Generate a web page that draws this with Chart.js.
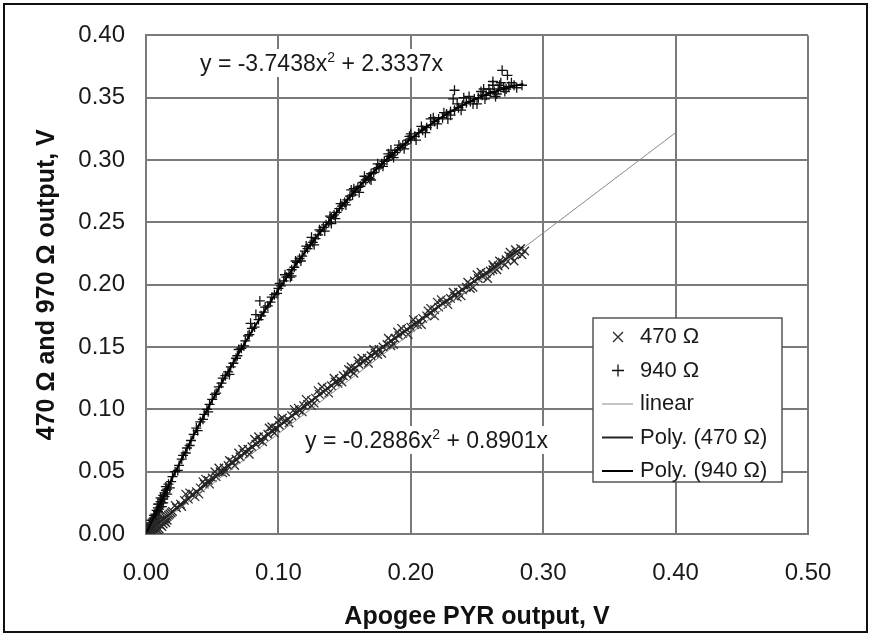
<!DOCTYPE html>
<html>
<head>
<meta charset="utf-8">
<script src="https://cdn.jsdelivr.net/npm/chart.js@4"></script>
<style>
  body { margin: 0; background: #fff; }
</style>
</head>
<body>
<canvas id="grafico" width="871" height="636"></canvas>
<script>
// lecturas del grafico: [Apogee PYR, salida]
const pts470 = [
  [0.001, 0.001], [0.002, 0.002], [0.003, 0.002], [0.004, 0.003], [0.005, 0.004], [0.006, 0.005],
  [0.007, 0.006], [0.008, 0.007], [0.009, 0.008], [0.010, 0.008], [0.011, 0.010], [0.012, 0.011],
  [0.013, 0.012], [0.014, 0.012], [0.015, 0.013], [0.016, 0.014], [0.018, 0.016], [0.003, 0.000],
  [0.006, 0.001], [0.009, 0.003], [0.012, 0.006], [0.015, 0.009], [0.004, 0.006], [0.008, 0.010],
  [0.002, 0.004], [0.010, 0.004], [0.000, 0.000], [0.001, 0.000], [0.002, 0.001], [0.004, 0.001],
  [0.005, 0.002], [0.007, 0.003], [0.008, 0.004], [0.011, 0.007], [0.013, 0.008], [0.014, 0.010],
  [0.016, 0.011], [0.017, 0.015], [0.019, 0.017], [0.005, 0.006], [0.007, 0.008], [0.003, 0.004],
  [0.001, 0.003],
  [0.020, 0.018], [0.023, 0.021], [0.026, 0.024], [0.029, 0.027], [0.032, 0.028], [0.035, 0.032],
  [0.038, 0.034], [0.041, 0.037], [0.044, 0.040], [0.047, 0.043], [0.050, 0.045], [0.053, 0.046],
  [0.056, 0.050], [0.059, 0.053], [0.062, 0.055], [0.065, 0.058], [0.068, 0.060], [0.071, 0.062],
  [0.074, 0.065], [0.077, 0.068], [0.080, 0.070], [0.083, 0.072], [0.086, 0.075], [0.089, 0.078],
  [0.092, 0.080], [0.095, 0.083], [0.098, 0.085], [0.101, 0.087], [0.104, 0.090], [0.107, 0.092],
  [0.110, 0.095], [0.113, 0.097], [0.116, 0.099], [0.119, 0.103], [0.122, 0.104], [0.125, 0.107],
  [0.128, 0.109], [0.131, 0.112], [0.134, 0.114], [0.137, 0.117], [0.140, 0.119], [0.143, 0.122],
  [0.146, 0.124], [0.149, 0.127], [0.152, 0.128], [0.155, 0.131], [0.158, 0.133], [0.161, 0.136],
  [0.164, 0.138], [0.167, 0.141], [0.170, 0.143], [0.173, 0.145], [0.176, 0.148], [0.179, 0.150],
  [0.182, 0.152], [0.185, 0.155], [0.188, 0.157], [0.191, 0.159], [0.194, 0.161], [0.197, 0.164],
  [0.200, 0.166], [0.203, 0.168], [0.206, 0.171], [0.209, 0.173], [0.212, 0.175], [0.215, 0.177],
  [0.218, 0.180], [0.221, 0.182], [0.224, 0.185], [0.227, 0.187], [0.230, 0.189], [0.233, 0.191],
  [0.236, 0.194], [0.239, 0.196], [0.242, 0.198], [0.245, 0.200], [0.248, 0.203], [0.251, 0.205],
  [0.254, 0.207], [0.257, 0.209], [0.260, 0.211], [0.263, 0.214], [0.266, 0.215], [0.269, 0.218],
  [0.272, 0.220], [0.276, 0.222], [0.280, 0.225], [0.286, 0.227],
  [0.030, 0.032], [0.045, 0.044], [0.055, 0.053], [0.070, 0.065], [0.085, 0.078], [0.100, 0.091],
  [0.115, 0.101], [0.130, 0.115], [0.145, 0.121], [0.160, 0.139], [0.175, 0.144], [0.190, 0.162],
  [0.205, 0.168], [0.220, 0.186], [0.235, 0.190], [0.250, 0.208], [0.265, 0.212], [0.275, 0.226],
  [0.278, 0.219], [0.040, 0.032], [0.060, 0.050], [0.095, 0.086], [0.125, 0.103], [0.155, 0.134],
  [0.185, 0.151], [0.215, 0.181], [0.245, 0.197], [0.262, 0.216], [0.283, 0.229],
  [0.022, 0.023], [0.027, 0.022], [0.033, 0.033], [0.037, 0.030], [0.043, 0.042], [0.048, 0.040],
  [0.052, 0.050], [0.058, 0.049], [0.063, 0.059], [0.067, 0.055], [0.073, 0.068], [0.078, 0.064],
  [0.082, 0.076], [0.088, 0.074], [0.093, 0.085], [0.097, 0.081], [0.103, 0.093], [0.108, 0.089],
  [0.112, 0.100], [0.118, 0.098], [0.121, 0.108], [0.127, 0.105], [0.133, 0.118], [0.138, 0.113],
  [0.142, 0.125], [0.148, 0.122], [0.153, 0.132], [0.157, 0.129], [0.163, 0.141], [0.168, 0.137],
  [0.172, 0.148], [0.178, 0.145], [0.183, 0.157], [0.187, 0.152], [0.193, 0.165], [0.198, 0.160],
  [0.202, 0.172], [0.208, 0.168], [0.213, 0.179], [0.218, 0.175], [0.223, 0.188], [0.228, 0.184],
  [0.232, 0.194], [0.238, 0.191], [0.243, 0.202], [0.247, 0.198], [0.253, 0.210], [0.258, 0.205],
  [0.262, 0.212], [0.267, 0.219], [0.271, 0.216], [0.274, 0.223], [0.279, 0.228], [0.284, 0.224]
];

const pts940 = [
  [0.000, 0.001], [0.001, 0.002], [0.001, 0.004], [0.002, 0.004], [0.002, 0.006], [0.003, 0.003],
  [0.003, 0.006], [0.004, 0.006], [0.004, 0.009], [0.005, 0.009], [0.005, 0.012], [0.006, 0.010],
  [0.006, 0.013], [0.007, 0.012], [0.007, 0.016], [0.008, 0.015], [0.008, 0.019], [0.009, 0.018],
  [0.009, 0.021], [0.010, 0.020], [0.010, 0.024], [0.011, 0.022], [0.011, 0.026], [0.012, 0.025],
  [0.012, 0.028], [0.013, 0.028], [0.013, 0.031], [0.014, 0.033], [0.015, 0.035], [0.016, 0.036],
  [0.000, 0.000], [0.001, 0.000], [0.002, 0.002], [0.003, 0.008], [0.004, 0.011], [0.005, 0.007],
  [0.006, 0.015], [0.007, 0.010], [0.008, 0.013], [0.009, 0.024], [0.010, 0.017], [0.011, 0.029],
  [0.012, 0.022], [0.013, 0.025], [0.014, 0.030], [0.015, 0.038], [0.016, 0.032], [0.017, 0.040],
  [0.018, 0.037], [0.020, 0.046],
  [0.019, 0.042], [0.022, 0.050], [0.025, 0.055], [0.028, 0.063], [0.031, 0.069], [0.034, 0.075],
  [0.036, 0.080], [0.038, 0.085], [0.041, 0.090], [0.044, 0.096], [0.046, 0.100], [0.048, 0.104],
  [0.050, 0.108], [0.053, 0.113], [0.055, 0.118], [0.057, 0.121], [0.060, 0.127], [0.062, 0.130],
  [0.064, 0.134], [0.066, 0.137], [0.068, 0.141], [0.070, 0.148], [0.072, 0.149], [0.075, 0.155],
  [0.078, 0.160], [0.079, 0.169], [0.080, 0.165], [0.082, 0.166], [0.083, 0.176], [0.085, 0.172],
  [0.086, 0.187], [0.087, 0.175], [0.090, 0.182], [0.092, 0.183], [0.095, 0.190], [0.097, 0.192],
  [0.100, 0.197], [0.102, 0.199],
  [0.024, 0.051], [0.027, 0.060], [0.030, 0.065], [0.033, 0.071], [0.039, 0.083], [0.043, 0.092],
  [0.047, 0.098], [0.052, 0.112], [0.058, 0.125], [0.063, 0.128], [0.069, 0.143], [0.074, 0.151],
  [0.077, 0.159], [0.089, 0.178], [0.094, 0.186], [0.099, 0.193],
  [0.104, 0.203], [0.106, 0.206], [0.108, 0.209], [0.110, 0.212], [0.112, 0.214], [0.114, 0.218],
  [0.116, 0.221], [0.118, 0.223], [0.120, 0.227], [0.122, 0.229], [0.124, 0.232], [0.126, 0.234],
  [0.128, 0.237], [0.130, 0.240], [0.132, 0.243], [0.134, 0.246], [0.136, 0.248], [0.138, 0.250],
  [0.140, 0.254], [0.142, 0.256], [0.144, 0.258], [0.146, 0.261], [0.148, 0.263], [0.150, 0.266],
  [0.152, 0.268], [0.154, 0.271], [0.156, 0.272], [0.158, 0.275], [0.160, 0.278], [0.162, 0.279],
  [0.164, 0.282], [0.166, 0.284], [0.168, 0.286], [0.170, 0.289], [0.172, 0.290], [0.174, 0.293],
  [0.176, 0.294], [0.178, 0.297], [0.180, 0.299], [0.182, 0.300], [0.184, 0.303], [0.186, 0.304],
  [0.188, 0.306], [0.190, 0.308], [0.192, 0.310], [0.194, 0.312], [0.196, 0.313], [0.198, 0.316],
  [0.200, 0.317], [0.203, 0.319], [0.206, 0.322], [0.209, 0.324], [0.212, 0.326], [0.215, 0.328],
  [0.218, 0.331], [0.221, 0.333], [0.224, 0.334], [0.227, 0.337], [0.230, 0.339], [0.233, 0.340],
  [0.236, 0.342], [0.239, 0.344], [0.242, 0.346], [0.245, 0.347], [0.248, 0.349], [0.251, 0.350],
  [0.254, 0.352], [0.257, 0.352], [0.260, 0.354], [0.263, 0.355], [0.266, 0.357], [0.270, 0.358],
  [0.274, 0.359], [0.278, 0.360],
  [0.101, 0.201], [0.105, 0.208], [0.109, 0.206], [0.113, 0.219], [0.117, 0.219], [0.121, 0.231],
  [0.127, 0.232], [0.131, 0.244], [0.135, 0.243], [0.139, 0.255], [0.143, 0.253], [0.147, 0.265],
  [0.151, 0.264], [0.157, 0.277], [0.161, 0.274], [0.165, 0.287], [0.169, 0.285], [0.175, 0.297],
  [0.179, 0.295], [0.183, 0.305], [0.187, 0.302], [0.191, 0.312], [0.195, 0.309], [0.199, 0.319],
  [0.204, 0.316], [0.208, 0.327], [0.211, 0.322], [0.217, 0.334], [0.220, 0.329], [0.225, 0.338],
  [0.228, 0.333], [0.235, 0.345], [0.238, 0.340], [0.244, 0.351], [0.247, 0.345], [0.253, 0.355],
  [0.256, 0.349], [0.259, 0.357], [0.265, 0.353], [0.267, 0.360], [0.272, 0.357], [0.276, 0.362],
  [0.280, 0.358],
  [0.110, 0.207], [0.125, 0.238], [0.140, 0.249], [0.155, 0.276], [0.170, 0.284], [0.185, 0.308],
  [0.200, 0.321], [0.215, 0.333], [0.230, 0.336], [0.240, 0.350], [0.250, 0.345], [0.255, 0.357],
  [0.262, 0.360], [0.264, 0.351], [0.268, 0.362], [0.233, 0.356], [0.232, 0.349], [0.262, 0.363],
  [0.269, 0.372], [0.273, 0.368], [0.284, 0.360], [0.271, 0.355]
];

// lineas de tendencia y linea 1:1
const xPoly = [0, 0.01, 0.02, 0.04, 0.06, 0.08, 0.10, 0.12, 0.14, 0.16, 0.18, 0.20, 0.22, 0.24, 0.26, 0.28, 0.285];
const yPoly470 = [0, 0.0089, 0.0177, 0.0351, 0.0524, 0.0694, 0.0861, 0.1027, 0.1190, 0.1350, 0.1509, 0.1665, 0.1818, 0.1970, 0.2119, 0.2266, 0.2303];
const yPoly940 = [0, 0.0230, 0.0452, 0.0874, 0.1265, 0.1627, 0.1959, 0.2261, 0.2533, 0.2776, 0.2988, 0.3170, 0.3322, 0.3444, 0.3537, 0.3599, 0.3610];
const xLinear = [0, 0.40];
const yLinear = [0, 0.322];

const xTicks = [0, 0.10, 0.20, 0.30, 0.40, 0.50];
const yTicks = [0, 0.05, 0.10, 0.15, 0.20, 0.25, 0.30, 0.35, 0.40];

const labels = ["470 Ω", "940 Ω", "linear", "Poly. (470 Ω)", "Poly. (940 Ω)"];
const equations = [
  ["y = -3.7438x", "2", " + 2.3337x"],
  ["y = -0.2886x", "2", " + 0.8901x"]
];

const FONT = '"Liberation Sans", Arial, sans-serif';
const toPoints = (xs, ys) => xs.map((x, i) => ({ x: x, y: ys[i] }));
const fromPairs = (pairs) => pairs.map((p) => ({ x: p[0], y: p[1] }));

// recuadro exterior
const marco = {
  id: "marco",
  afterDraw(chart) {
    const ctx = chart.ctx;
    ctx.save();
    ctx.strokeStyle = "#111";
    ctx.lineWidth = 2;
    ctx.strokeRect(4, 4, 863, 628);
    ctx.restore();
  },
};

// ecuaciones de las tendencias
const ecuaciones = {
  id: "ecuaciones",
  afterDraw(chart) {
    const ctx = chart.ctx;
    const spots = [
      [200, 71],
      [305, 448],
    ];
    ctx.save();
    equations.forEach((eq, i) => {
      let x = spots[i][0];
      const y = spots[i][1];
      ctx.font = "23px " + FONT;
      const w1 = ctx.measureText(eq[0]).width;
      const w3 = ctx.measureText(eq[2]).width;
      ctx.font = "14px " + FONT;
      const w2 = ctx.measureText(eq[1]).width;
      ctx.fillStyle = "#fff";
      ctx.fillRect(x - 3, y - 22, w1 + w2 + w3 + 6, 28);
      ctx.fillStyle = "#1a1a1a";
      ctx.textBaseline = "alphabetic";
      ctx.font = "23px " + FONT;
      ctx.fillText(eq[0], x, y);
      x += w1;
      ctx.font = "14px " + FONT;
      ctx.fillText(eq[1], x, y - 9);
      x += w2;
      ctx.font = "23px " + FONT;
      ctx.fillText(eq[2], x, y);
    });
    ctx.restore();
  },
};

// leyenda dentro del area de trazado
const leyenda = {
  id: "leyenda",
  afterDraw(chart) {
    const ctx = chart.ctx;
    ctx.save();
    ctx.fillStyle = "#fff";
    ctx.fillRect(593, 318, 189, 164);
    ctx.strokeStyle = "#555";
    ctx.lineWidth = 1.5;
    ctx.strokeRect(593, 318, 189, 164);
    ctx.font = "22px " + FONT;
    ctx.textBaseline = "middle";
    chart.data.datasets.forEach((ds, i) => {
      const y = 337 + i * 33.5;
      ctx.strokeStyle = ds.borderColor;
      if (ds.showLine) {
        ctx.lineWidth = ds.borderWidth;
        ctx.beginPath();
        ctx.moveTo(602, y);
        ctx.lineTo(633, y);
        ctx.stroke();
      } else {
        ctx.lineWidth = 1.3;
        Chart.helpers.drawPoint(ctx, { pointStyle: ds.pointStyle, rotation: 0, radius: ds.pointRadius + 1, borderWidth: 1.3 }, 618, y);
      }
      ctx.fillStyle = "#1a1a1a";
      ctx.fillText(labels[i], 640, y);
    });
    ctx.restore();
  },
};

const grid = {
  color: "#7a7a7a",
  lineWidth: 2,
  drawTicks: false,
};

new Chart("grafico", {
  type: "scatter",
  data: {
    datasets: [
      {
        label: labels[0],
        data: fromPairs(pts470),
        pointStyle: "crossRot",
        pointRadius: 6,
        borderColor: "#2a2a2a",
        borderWidth: 1.3,
        order: 2,
      },
      {
        label: labels[1],
        data: fromPairs(pts940),
        pointStyle: "cross",
        pointRadius: 5,
        borderColor: "#111",
        borderWidth: 1.3,
        order: 3,
      },
      {
        label: labels[2],
        data: toPoints(xLinear, yLinear),
        showLine: true,
        pointRadius: 0,
        borderColor: "#8a8a8a",
        borderWidth: 1,
        order: 1,
      },
      {
        label: labels[3],
        data: toPoints(xPoly, yPoly470),
        showLine: true,
        pointRadius: 0,
        borderColor: "#222",
        borderWidth: 2,
        cubicInterpolationMode: "monotone",
        order: 0,
      },
      {
        label: labels[4],
        data: toPoints(xPoly, yPoly940),
        showLine: true,
        pointRadius: 0,
        borderColor: "#000",
        borderWidth: 2,
        cubicInterpolationMode: "monotone",
        order: 0,
      },
    ],
  },
  options: {
    responsive: false,
    animation: false,
    devicePixelRatio: 1,
    layout: { padding: { left: 0, right: 63, top: 27, bottom: 0 } },
    plugins: { legend: { display: false }, tooltip: { enabled: false } },
    scales: {
      x: {
        type: "linear",
        min: 0,
        max: 0.5,
        afterBuildTicks: (scale) => {
          scale.ticks = xTicks.map((v) => ({ value: v }));
        },
        afterFit: (scale) => {
          scale.height = 102;
        },
        ticks: {
          padding: 25,
          color: "#1a1a1a",
          font: { family: FONT, size: 24 },
          callback: (v) => v.toFixed(2),
        },
        grid: grid,
        border: { color: "#7a7a7a", width: 2 },
        title: {
          display: true,
          text: "Apogee PYR output, V",
          color: "#111",
          font: { family: FONT, size: 25, weight: "bold" },
          padding: { top: 0, bottom: 4 },
        },
      },
      y: {
        type: "linear",
        min: 0,
        max: 0.4,
        afterBuildTicks: (scale) => {
          scale.ticks = yTicks.map((v) => ({ value: v }));
        },
        afterFit: (scale) => {
          scale.width = 146;
        },
        ticks: {
          padding: 21,
          color: "#1a1a1a",
          font: { family: FONT, size: 24 },
          callback: (v) => v.toFixed(2),
        },
        grid: grid,
        border: { color: "#7a7a7a", width: 2 },
        title: {
          display: true,
          text: "470 Ω and 970 Ω output, V",
          color: "#111",
          font: { family: FONT, size: 25, weight: "bold" },
          padding: { top: 32, bottom: 0 },
        },
      },
    },
  },
  plugins: [ecuaciones, leyenda, marco],
});
</script>
</body>
</html>
